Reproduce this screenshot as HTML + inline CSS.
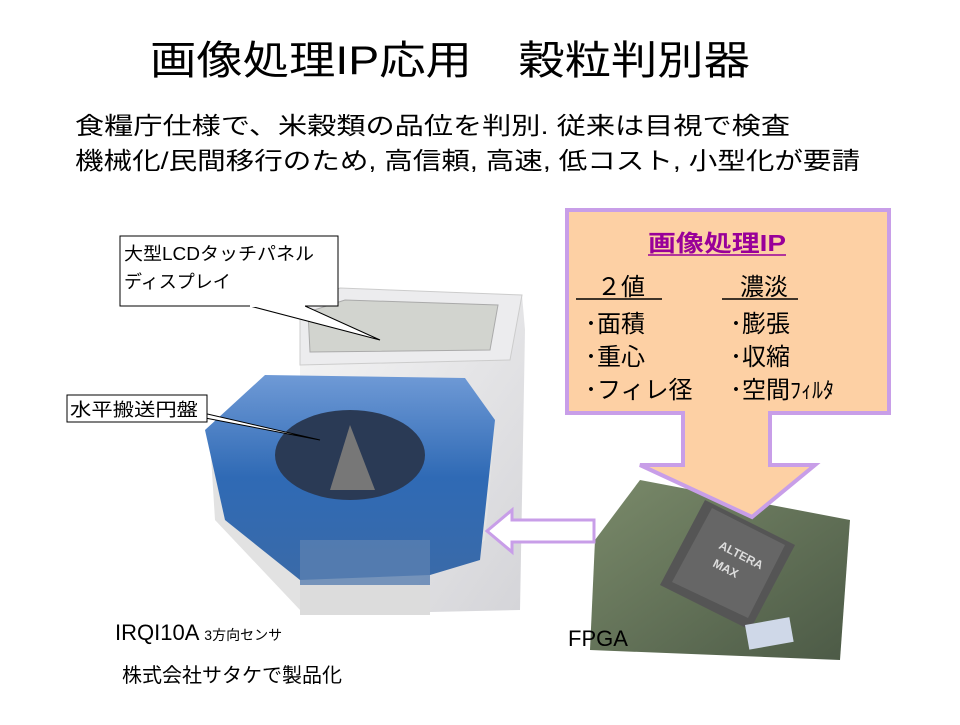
<!DOCTYPE html>
<html><head><meta charset="utf-8"><style>
body{margin:0;background:#fff;}
svg text{font-family:"Liberation Sans","Noto Sans CJK JP",sans-serif;}
</style></head><body>
<svg width="960" height="720" viewBox="0 0 960 720" xmlns="http://www.w3.org/2000/svg">
<defs>
<linearGradient id="blue" x1="0" y1="0" x2="0" y2="1"><stop offset="0" stop-color="#6f9ad6"/><stop offset="0.5" stop-color="#2f6ab5"/><stop offset="1" stop-color="#3a6aa8"/></linearGradient>
<linearGradient id="silver" x1="0" y1="0" x2="1" y2="1"><stop offset="0" stop-color="#f6f6f6"/><stop offset="1" stop-color="#d4d4d8"/></linearGradient>
<linearGradient id="board" x1="0" y1="0" x2="1" y2="1"><stop offset="0" stop-color="#7a8a6a"/><stop offset="1" stop-color="#4c5a46"/></linearGradient>
</defs>
<rect width="960" height="720" fill="#fff"/>
<text x="150" y="74" font-size="40" textLength="600" lengthAdjust="spacingAndGlyphs">画像処理IP応用　穀粒判別器</text>
<text x="75" y="134" font-size="24" textLength="715" lengthAdjust="spacingAndGlyphs">食糧庁仕様で、米穀類の品位を判別.  従来は目視で検査</text>
<text x="75" y="169" font-size="24" textLength="785" lengthAdjust="spacingAndGlyphs">機械化/民間移行のため, 高信頼, 高速, 低コスト, 小型化が要請</text>

<!-- device -->
<polygon points="300,305 340,288 522,295 525,330 520,610 300,615" fill="url(#silver)"/>
<polygon points="300,305 340,288 522,295 510,360 300,365" fill="#ececee" stroke="#ccc"/>
<polygon points="308,312 345,300 498,305 490,350 310,352" fill="#d2d4cf" stroke="#aaa"/>
<polygon points="210,440 260,395 470,395 495,430 485,540 440,570 300,610 215,520" fill="#e2e2e2"/>
<polygon points="205,430 265,375 465,378 495,420 480,560 430,575 300,580 225,520" fill="url(#blue)"/>
<ellipse cx="350" cy="455" rx="75" ry="45" fill="#2a3a55"/>
<polygon points="330,490 350,425 375,490" fill="#777"/>
<rect x="300" y="540" width="130" height="55" fill="#5a7fb0" opacity="0.8"/>
<rect x="300" y="585" width="130" height="30" fill="#dcdcdc"/>

<!-- callouts -->
<polygon points="250,306 380,340 305,306" fill="#fff" stroke="#000"/>
<rect x="120" y="236" width="218" height="70" fill="#fff" stroke="#000"/>
<line x1="250" y1="306" x2="305" y2="306" stroke="#fff" stroke-width="2"/>
<text x="124" y="260" font-size="18" textLength="190" lengthAdjust="spacingAndGlyphs">大型LCDタッチパネル</text>
<text x="124" y="288" font-size="18">ディスプレイ</text>
<polygon points="190,410 320,440 200,417" fill="#fff" stroke="#000"/>
<rect x="67" y="395" width="140" height="27" fill="#fff" stroke="#000"/>
<text x="70" y="416" font-size="18" textLength="128" lengthAdjust="spacingAndGlyphs">水平搬送円盤</text>

<!-- chip photo -->
<polygon points="640,480 850,520 840,660 590,650 595,540" fill="url(#board)"/>
<polygon points="705,500 795,545 750,630 660,585" fill="#555"/>
<polygon points="712,508 785,545 748,618 672,582" fill="#666"/>
<text x="718" y="548" font-size="12" fill="#ddd" transform="rotate(27 718 548)" font-weight="bold">ALTERA</text>
<text x="712" y="566" font-size="12" fill="#ddd" transform="rotate(27 712 566)" font-weight="bold">MAX</text>
<rect x="745" y="625" width="45" height="25" fill="#cfd8e8" transform="rotate(-10 745 625)"/>

<!-- left arrow -->
<polygon points="487,531 512,510 512,520 594,520 594,542 512,542 512,552" fill="#fff" stroke="#c89ee8" stroke-width="3"/>

<!-- orange box + arrow -->
<polygon points="567,210 889,210 889,413 770,413 770,465 815,465 752,517 640,465 683,465 683,413 567,413" fill="#fdd0a4" stroke="#c89ee8" stroke-width="4"/>
<text x="648" y="251" font-size="23" fill="#990099" textLength="138" lengthAdjust="spacingAndGlyphs" font-weight="bold">画像処理IP</text>
<line x1="648" y1="255" x2="786" y2="255" stroke="#990099" stroke-width="1.5"/>
<text x="597" y="295" font-size="24">２値</text>
<line x1="576" y1="299" x2="662" y2="299" stroke="#000" stroke-width="1.5"/>
<text x="740" y="295" font-size="24">濃淡</text>
<line x1="722" y1="299" x2="798" y2="299" stroke="#000" stroke-width="1.5"/>
<text x="585" y="332" font-size="24">･面積</text>
<text x="585" y="365" font-size="24">･重心</text>
<text x="585" y="398" font-size="24">･フィレ径</text>
<text x="730" y="332" font-size="24">･膨張</text>
<text x="730" y="365" font-size="24">･収縮</text>
<text x="730" y="398" font-size="24">･空間<tspan font-size="22">ﾌｨﾙﾀ</tspan></text>

<text x="115" y="640" font-size="22">IRQI10A <tspan font-size="14">3方向センサ</tspan></text>
<text x="122" y="682" font-size="20">株式会社サタケで製品化</text>
<text x="568" y="646" font-size="22">FPGA</text>
</svg>
</body></html>
